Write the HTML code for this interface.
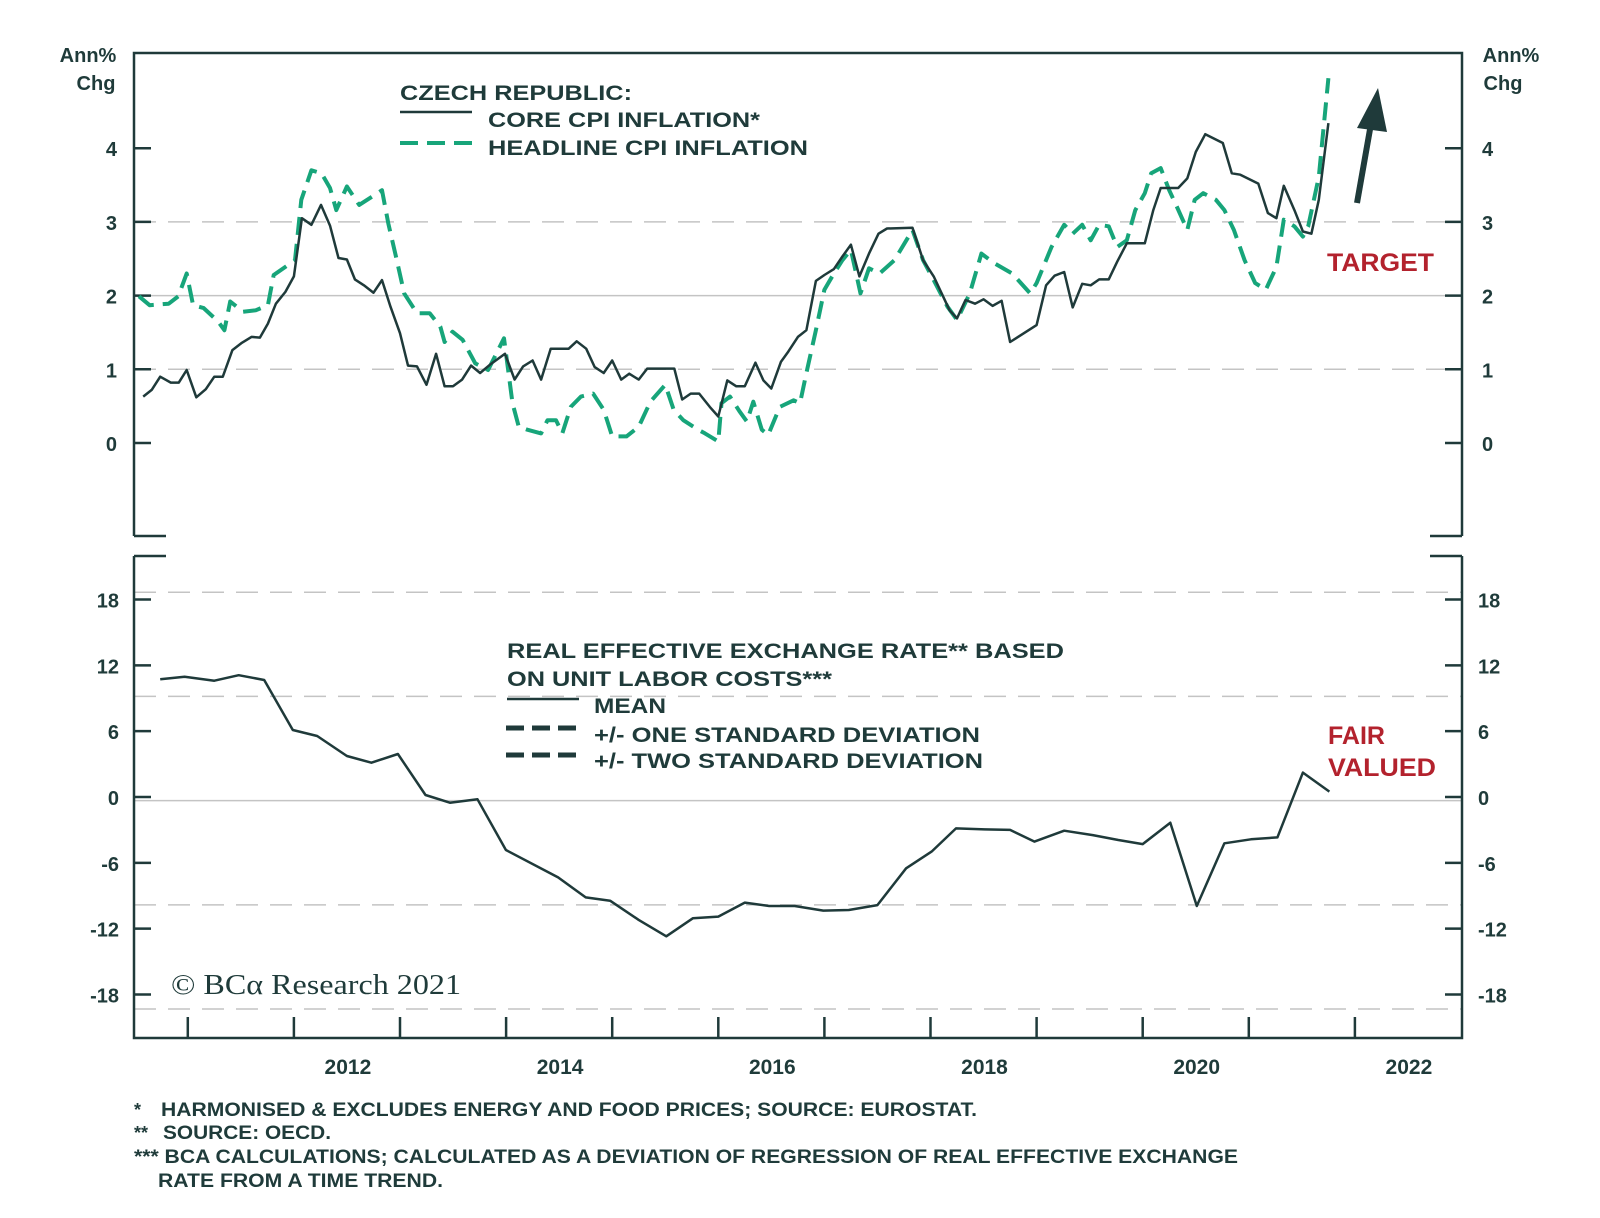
<!DOCTYPE html>
<html><head><meta charset="utf-8">
<style>
html,body{margin:0;padding:0;background:#fff;}
svg{display:block;}
text{font-family:"Liberation Sans",sans-serif;font-weight:bold;fill:#1f3b3a;}
</style></head>
<body>
<svg id="chart" width="1600" height="1218" viewBox="0 0 1600 1218" xmlns="http://www.w3.org/2000/svg">
<g id="grid"></g>
<g id="frame"></g>
<g id="series"></g>
<g id="labels"></g>

<text x="88" y="62" text-anchor="middle" font-size="20">Ann%</text>
<text x="96" y="90" text-anchor="middle" font-size="20">Chg</text>
<text x="1511" y="62" text-anchor="middle" font-size="20">Ann%</text>
<text x="1503" y="90" text-anchor="middle" font-size="20">Chg</text>

<g>
<text x="400" y="100" font-size="21" textLength="232" lengthAdjust="spacingAndGlyphs">CZECH REPUBLIC:</text>
<line x1="400" y1="112" x2="472" y2="112" stroke="#1f3a3a" stroke-width="2.5"/>
<text x="488" y="127" font-size="21" textLength="272" lengthAdjust="spacingAndGlyphs">CORE CPI INFLATION*</text>
<line x1="400" y1="143" x2="474" y2="143" stroke="#17a57a" stroke-width="4" stroke-dasharray="18,9"/>
<text x="488" y="155" font-size="21" textLength="320" lengthAdjust="spacingAndGlyphs">HEADLINE CPI INFLATION</text>
</g>
<text x="1327" y="271" font-size="25" style="fill:#b3222d" textLength="107" lengthAdjust="spacingAndGlyphs">TARGET</text>
<g>
<line x1="1357" y1="203" x2="1372" y2="118" stroke="#1f3a3a" stroke-width="6"/>
<polygon points="1378,88 1357,128 1387,132" fill="#1f3a3a"/>
</g>

<g>
<text x="507" y="658" font-size="21" textLength="557" lengthAdjust="spacingAndGlyphs">REAL EFFECTIVE EXCHANGE RATE** BASED</text>
<text x="507" y="686" font-size="21" textLength="325" lengthAdjust="spacingAndGlyphs">ON UNIT LABOR COSTS***</text>
<line x1="507" y1="699" x2="579" y2="699" stroke="#1f3a3a" stroke-width="2.5"/>
<text x="594" y="713" font-size="21" textLength="72" lengthAdjust="spacingAndGlyphs">MEAN</text>
<line x1="506" y1="728" x2="582" y2="728" stroke="#1f3a3a" stroke-width="5" stroke-dasharray="18,8"/>
<text x="594" y="742" font-size="21" textLength="386" lengthAdjust="spacingAndGlyphs">+/- ONE STANDARD DEVIATION</text>
<line x1="506" y1="755" x2="582" y2="755" stroke="#1f3a3a" stroke-width="5" stroke-dasharray="18,8"/>
<text x="594" y="768" font-size="21" textLength="389" lengthAdjust="spacingAndGlyphs">+/- TWO STANDARD DEVIATION</text>
</g>
<text x="1328" y="744" font-size="25" style="fill:#b3222d">FAIR</text>
<text x="1328" y="776" font-size="25" style="fill:#b3222d" textLength="108" lengthAdjust="spacingAndGlyphs">VALUED</text>
<text x="171" y="994" font-size="28" textLength="290" lengthAdjust="spacingAndGlyphs" style="font-family:'Liberation Serif',serif;font-weight:normal">© BCα Research 2021</text>

<g>
<text x="134" y="1116" font-size="18">*</text>
<text x="161" y="1116" font-size="19" textLength="816" lengthAdjust="spacingAndGlyphs">HARMONISED &amp; EXCLUDES ENERGY AND FOOD PRICES; SOURCE: EUROSTAT.</text>
<text x="134" y="1139" font-size="18">**</text>
<text x="163" y="1139" font-size="19" textLength="168" lengthAdjust="spacingAndGlyphs">SOURCE: OECD.</text>
<text x="134" y="1163" font-size="19" textLength="1104" lengthAdjust="spacingAndGlyphs">*** BCA CALCULATIONS; CALCULATED AS A DEVIATION OF REGRESSION OF REAL EFFECTIVE EXCHANGE</text>
<text x="158" y="1187" font-size="19" textLength="285" lengthAdjust="spacingAndGlyphs">RATE FROM A TIME TREND.</text>
</g>
</svg>
<script>
const coreDates=[2010.58,2010.66,2010.74,2010.84,2010.915,2010.99,2011.08,2011.17,2011.25,2011.33,2011.42,2011.51,2011.60,2011.68,2011.755,2011.83,2011.92,2012.0,2012.075,2012.165,2012.255,2012.34,2012.42,2012.50,2012.575,2012.66,2012.75,2012.83,2012.91,2013.0,2013.075,2013.16,2013.25,2013.34,2013.42,2013.50,2013.585,2013.67,2013.755,2013.845,2013.99,2014.08,2014.16,2014.25,2014.33,2014.42,2014.51,2014.59,2014.665,2014.755,2014.835,2014.92,2015.0,2015.085,2015.16,2015.25,2015.33,2015.42,2015.51,2015.585,2015.66,2015.74,2015.82,2015.92,2016.0,2016.085,2016.17,2016.25,2016.35,2016.425,2016.50,2016.59,2016.66,2016.75,2016.83,2016.92,2017.0,2017.09,2017.17,2017.25,2017.33,2017.42,2017.51,2017.59,2017.83,2017.93,2018.03,2018.18,2018.25,2018.33,2018.42,2018.50,2018.585,2018.67,2018.75,2019.0,2019.09,2019.17,2019.26,2019.34,2019.43,2019.51,2019.59,2019.68,2019.76,2019.85,2020.02,2020.10,2020.17,2020.335,2020.42,2020.50,2020.59,2020.755,2020.84,2020.92,2021.09,2021.18,2021.26,2021.33,2021.43,2021.51,2021.59,2021.66,2021.75];
const coreValues=[0.63,0.72,0.9,0.82,0.82,0.99,0.62,0.73,0.9,0.9,1.26,1.36,1.44,1.43,1.62,1.89,2.05,2.26,3.05,2.96,3.23,2.95,2.51,2.49,2.22,2.14,2.04,2.21,1.85,1.49,1.05,1.04,0.79,1.21,0.77,0.77,0.86,1.05,0.95,1.06,1.21,0.86,1.04,1.12,0.86,1.28,1.28,1.28,1.38,1.28,1.03,0.95,1.12,0.86,0.94,0.86,1.01,1.01,1.01,1.01,0.59,0.67,0.67,0.49,0.36,0.85,0.77,0.77,1.09,0.85,0.74,1.10,1.24,1.44,1.53,2.2,2.28,2.36,2.53,2.69,2.26,2.57,2.84,2.91,2.92,2.48,2.26,1.80,1.69,1.94,1.89,1.95,1.86,1.93,1.37,1.60,2.14,2.27,2.32,1.84,2.16,2.14,2.22,2.22,2.46,2.71,2.71,3.16,3.46,3.46,3.59,3.95,4.19,4.07,3.66,3.64,3.52,3.12,3.05,3.49,3.16,2.87,2.84,3.30,4.34];
const headDates=[2010.54,2010.64,2010.82,2010.91,2010.99,2011.05,2011.15,2011.285,2011.345,2011.40,2011.52,2011.64,2011.755,2011.81,2011.95,2012.01,2012.07,2012.165,2012.26,2012.34,2012.40,2012.50,2012.615,2012.83,2012.89,2012.97,2013.04,2013.16,2013.28,2013.38,2013.42,2013.495,2013.59,2013.71,2013.83,2013.98,2014.06,2014.12,2014.20,2014.33,2014.39,2014.47,2014.53,2014.61,2014.705,2014.82,2014.92,2015.0,2015.135,2015.25,2015.36,2015.50,2015.58,2015.67,2015.81,2015.875,2016.0,2016.03,2016.11,2016.20,2016.27,2016.33,2016.41,2016.47,2016.58,2016.71,2016.77,2016.83,2016.92,2017.0,2017.09,2017.17,2017.25,2017.34,2017.42,2017.52,2017.66,2017.83,2017.93,2018.03,2018.16,2018.25,2018.37,2018.48,2018.60,2018.77,2018.94,2019.0,2019.14,2019.26,2019.34,2019.43,2019.51,2019.59,2019.68,2019.76,2019.85,2019.93,2020.02,2020.08,2020.17,2020.25,2020.32,2020.42,2020.49,2020.57,2020.69,2020.77,2020.86,2020.96,2021.06,2021.16,2021.26,2021.33,2021.43,2021.51,2021.56,2021.66,2021.75];
const headValues=[1.99,1.87,1.89,1.99,2.30,1.87,1.83,1.65,1.53,1.92,1.78,1.80,1.87,2.28,2.42,2.48,3.30,3.70,3.66,3.46,3.16,3.48,3.23,3.43,2.98,2.48,2.03,1.76,1.76,1.58,1.37,1.51,1.40,1.08,0.99,1.42,0.54,0.22,0.18,0.13,0.31,0.31,0.13,0.49,0.63,0.67,0.45,0.09,0.09,0.22,0.56,0.79,0.45,0.31,0.18,0.13,0.02,0.54,0.63,0.43,0.29,0.56,0.18,0.11,0.49,0.58,0.54,0.95,1.53,2.08,2.30,2.48,2.62,2.03,2.37,2.30,2.48,2.89,2.48,2.21,1.85,1.67,2.03,2.57,2.44,2.30,2.03,2.17,2.66,2.96,2.84,2.96,2.75,2.96,2.94,2.66,2.75,3.16,3.39,3.66,3.73,3.43,3.21,2.89,3.30,3.39,3.30,3.16,2.89,2.48,2.17,2.08,2.39,3.03,2.94,2.80,2.94,3.61,4.95];
const reerDates=[2010.74,2010.97,2011.25,2011.48,2011.72,2011.99,2012.22,2012.50,2012.73,2012.98,2013.24,2013.47,2013.73,2013.998,2014.49,2014.75,2014.98,2015.25,2015.51,2015.76,2016.0,2016.25,2016.48,2016.72,2016.99,2017.23,2017.50,2017.77,2018.01,2018.24,2018.51,2018.75,2018.98,2019.26,2019.53,2019.77,2020.0,2020.26,2020.51,2020.77,2021.02,2021.27,2021.51,2021.76];
const reerValues=[10.73,10.97,10.6,11.1,10.67,6.11,5.56,3.74,3.13,3.92,0.18,-0.52,-0.21,-4.83,-7.33,-9.15,-9.45,-11.2,-12.7,-11.06,-10.9,-9.63,-9.94,-9.94,-10.36,-10.3,-9.85,-6.5,-4.98,-2.86,-2.95,-3.0,-4.07,-3.07,-3.47,-3.92,-4.29,-2.34,-9.94,-4.22,-3.86,-3.68,2.22,0.49];
const topTicks=[0,1,2,3,4];
const botTicks=[-18,-12,-6,0,6,12,18];
const yearLabels=[2012,2014,2016,2018,2020,2022];
const reerMean=-0.33, reerSD=9.5;

const NS='http://www.w3.org/2000/svg';
const L=134,R=1462,TT=53,TB=536,BT=556,BB=1038;
const x=t=>293.9+(t-2012)*106.1;
const yT=v=>443-v*73.7;
const yB=v=>797-v*10.97;
function mk(tag,attrs,parent){const e=document.createElementNS(NS,tag);for(const k in attrs)e.setAttribute(k,attrs[k]);document.getElementById(parent).appendChild(e);return e;}

[1,3].forEach(v=>{const e=mk('line',{x1:L,x2:R,y1:yT(v),y2:yT(v),stroke:'#c4c4c4','stroke-width':1.5,'stroke-dasharray':'22,12'},'grid');

});
{const e=mk('line',{x1:L,x2:R,y1:yT(2),y2:yT(2),stroke:'#c4c4c4','stroke-width':1.5},'grid');

}
[reerMean+reerSD,reerMean-reerSD,reerMean+2*reerSD,reerMean-2*reerSD].forEach((v,i)=>{const e=mk('line',{x1:L,x2:R,y1:yB(v),y2:yB(v),stroke:'#c4c4c4','stroke-width':1.5,'stroke-dasharray':'22,12'},'grid');

});
{const e=mk('line',{x1:L,x2:R,y1:yB(reerMean),y2:yB(reerMean),stroke:'#c4c4c4','stroke-width':1.5},'grid');

}

const st={stroke:'#1f3a3a','stroke-width':2.5,fill:'none'};
function fl(d,name){const e=mk('path',Object.assign({d:d},st),'frame');

}
fl(`M${L} ${TB} L${L} ${TT} L${R} ${TT} L${R} ${TB}`,'top-panel-frame');
fl(`M${L} ${TB} h32 M${R} ${TB} h-32`,'top-panel-break');
fl(`M${L} ${BT} L${L} ${BB} L${R} ${BB} L${R} ${BT} M${L} ${BT} h32 M${R} ${BT} h-32`,'bottom-panel-frame');
topTicks.forEach(v=>{fl(`M${L} ${yT(v)} h17 M${R} ${yT(v)} h-17`,'top-tick-'+v);
let t=mk('text',{x:117,y:yT(v)+8,'text-anchor':'end','font-size':20},'labels');t.textContent=v;


t=mk('text',{x:1482,y:yT(v)+8,'font-size':20},'labels');t.textContent=v;

});
botTicks.forEach(v=>{fl(`M${L} ${yB(v)} h17 M${R} ${yB(v)} h-17`,'bottom-tick-'+v);
let t=mk('text',{x:119,y:yB(v)+8,'text-anchor':'end','font-size':20},'labels');t.textContent=v;


t=mk('text',{x:1478,y:yB(v)+8,'font-size':20},'labels');t.textContent=v;

});
for(let yr=2011;yr<=2022;yr++){fl(`M${x(yr)} ${BB} v-21`,'x-tick-'+yr);}
yearLabels.forEach(yr=>{const t=mk('text',{x:x(yr)+54,y:1074,'text-anchor':'middle','font-size':21},'labels');t.textContent=yr;

});

function path(ds,vs,yf){return ds.map((d,i)=>(i?'L':'M')+x(d).toFixed(1)+' '+yf(vs[i]).toFixed(1)).join(' ');}
{const e=mk('path',{d:path(headDates,headValues,yT),stroke:'#17a57a','stroke-width':4,fill:'none','stroke-dasharray':'18,9','stroke-linejoin':'round'},'series');

}
{const e=mk('path',{d:path(coreDates,coreValues,yT),stroke:'#1f3a3a','stroke-width':2.5,fill:'none','stroke-linejoin':'round'},'series');

}
{const e=mk('path',{d:path(reerDates,reerValues,yB),stroke:'#1f3a3a','stroke-width':2.5,fill:'none','stroke-linejoin':'round'},'series');

}
</script>
</body></html>
